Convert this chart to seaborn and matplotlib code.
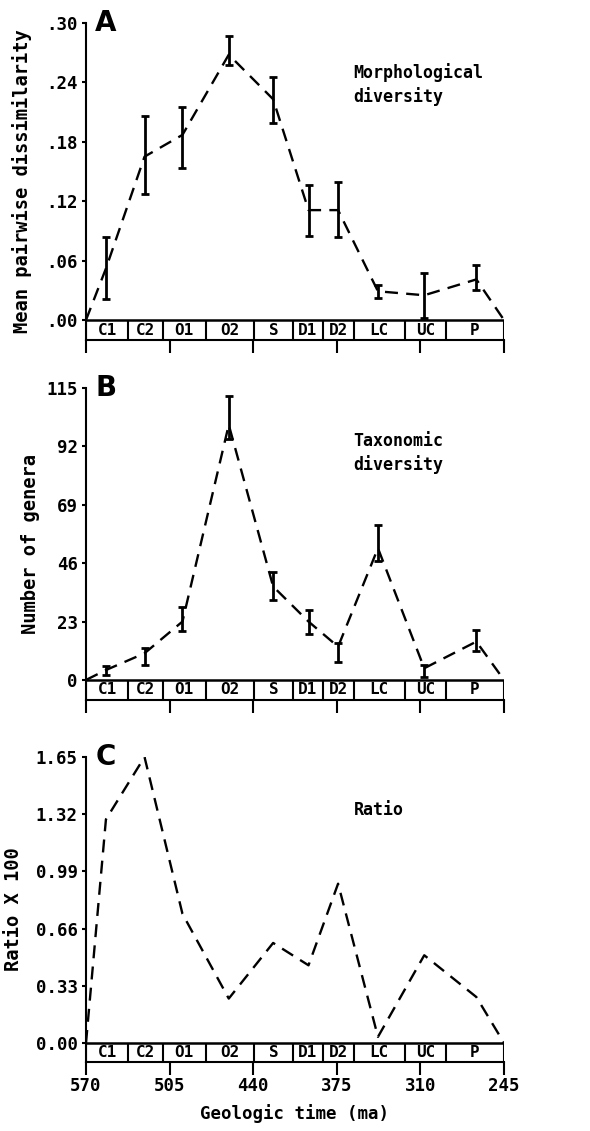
import matplotlib
matplotlib.use("Agg")
import matplotlib.pyplot as plt
import seaborn as sns

# period boxes along the time axis (ma)
period_names = ['C1', 'C2', 'O1', 'O2', 'S', 'D1', 'D2', 'LC', 'UC', 'P']
period_edges = [570, 537, 510.5, 477, 439, 409, 386, 362, 322, 290, 245]

# ages of the ten sampled intervals
ages = [554.5, 524.5, 495, 459, 424.5, 397, 374, 343, 307, 266.5]
age_ticks = [570, 505, 440, 375, 310, 245]

# A: morphological diversity (mean pairwise dissimilarity)
morph_mean = [0.052, 0.165, 0.187, 0.268, 0.223, 0.111, 0.111, 0.029, 0.025, 0.041]
morph_lo = [0.021, 0.127, 0.154, 0.258, 0.199, 0.085, 0.084, 0.0225, 0.002, 0.030]
morph_hi = [0.084, 0.206, 0.215, 0.287, 0.245, 0.136, 0.139, 0.035, 0.047, 0.056]

# B: taxonomic diversity (number of genera)
genera_mean = [3.9, 10.5, 23, 100.5, 36.8, 23, 13.1, 51.9, 4.6, 15.1]
genera_lo = [2.0, 5.9, 19.1, 95.0, 31.3, 18.1, 7.2, 46.7, 1.3, 11.4]
genera_hi = [5.5, 12.5, 28.9, 111.7, 42.7, 27.6, 14.5, 60.9, 5.9, 19.5]

# C: ratio x 100
ratio = [1.29, 1.65, 0.745, 0.256, 0.577, 0.448, 0.919, 0.035, 0.506, 0.265]

sns.set_style("ticks")
mono = 'DejaVu Sans Mono'
plt.rcParams['font.family'] = [mono, 'DejaVu Sans']
plt.rcParams['font.weight'] = 'bold'
for key in ['text.color', 'axes.labelcolor', 'xtick.color', 'ytick.color', 'axes.edgecolor']:
    plt.rcParams[key] = 'black'

fig = plt.figure(figsize=(5.9, 11.31), dpi=100)
left, width = 86 / 590, 418 / 590
ax_a = fig.add_axes([left, 1 - 340 / 1131, width, 317 / 1131])
ax_b = fig.add_axes([left, 1 - 700 / 1131, width, 312 / 1131])
ax_c = fig.add_axes([left, 1 - 1062 / 1131, width, 305 / 1131])


def draw_panel(ax, vals, lo, hi, ymax, yticks, ylabels, boxh, ylabel,
               letter, note, note_y, ylab_x):
    xs = [570] + ages + [245]
    ys = [0] + vals + [0]
    sns.lineplot(x=xs, y=ys, ax=ax, color='black', lw=1.7,
                 linestyle=(0, (5.5, 3.5)), sort=False)
    if lo is not None:
        err = [[m - l for m, l in zip(vals, lo)], [h - m for m, h in zip(vals, hi)]]
        ax.errorbar(ages, vals, yerr=err, fmt='none', ecolor='black',
                    elinewidth=2, capsize=3, capthick=2)
    # period box under the zero line
    ax.axhline(0, color='black', lw=1.8)
    ax.vlines(period_edges, -boxh, 0, color='black', lw=1.5)
    for name, a, b in zip(period_names, period_edges[:-1], period_edges[1:]):
        ax.text((a + b) / 2, -boxh / 2, name, ha='center', va='center',
                fontsize=11.5, fontweight='bold', family=mono)
    ax.set_xlim(570, 245)
    ax.set_ylim(-boxh, ymax)
    ax.set_xticks(age_ticks)
    ax.set_yticks(yticks)
    ax.set_yticklabels(ylabels)
    for t in ax.get_yticklabels() + ax.get_xticklabels():
        t.set_fontweight('bold')
        t.set_fontsize(12.5)
    ax.tick_params(axis='y', direction='out', length=3, width=1.5, pad=3)
    ax.tick_params(axis='x', direction='out', length=9, width=1.5, pad=2)
    for s in ['top', 'right']:
        ax.spines[s].set_visible(False)
    for s in ['left', 'bottom']:
        ax.spines[s].set_linewidth(1.5)
    ax.set_xlabel('')
    ax.set_ylabel(ylabel, fontsize=13.5, fontweight='bold')
    ax.yaxis.set_label_coords(ylab_x, 0.5)
    ax.text(0.022, 1.0, letter, transform=ax.transAxes, ha='left', va='center',
            fontsize=20, family='DejaVu Sans', fontweight='bold')
    ax.text(0.64, note_y, note, transform=ax.transAxes, ha='left', va='top',
            fontsize=12, fontweight='bold', linespacing=1.35)


draw_panel(ax_a, morph_mean, morph_lo, morph_hi, 0.30,
           [0, 0.06, 0.12, 0.18, 0.24, 0.30],
           ['.00', '.06', '.12', '.18', '.24', '.30'],
           0.0202, 'Mean pairwise dissimilarity', 'A',
           'Morphological\ndiversity', 0.875, -0.128)
draw_panel(ax_b, genera_mean, genera_lo, genera_hi, 115,
           [0, 23, 46, 69, 92, 115],
           ['0', '23', '46', '69', '92', '115'],
           7.9, 'Number of genera', 'B',
           'Taxonomic\ndiversity', 0.86, -0.11)
draw_panel(ax_c, ratio, None, None, 1.65,
           [0, 0.33, 0.66, 0.99, 1.32, 1.65],
           ['0.00', '0.33', '0.66', '0.99', '1.32', '1.65'],
           0.11, 'Ratio X 100', 'C',
           'Ratio', 0.855, -0.15)

ax_a.tick_params(labelbottom=False)
ax_b.tick_params(labelbottom=False)
ax_c.set_xlabel('Geologic time (ma)', fontsize=12.5, fontweight='bold', labelpad=6)

fig.savefig('out.png', dpi=100)
